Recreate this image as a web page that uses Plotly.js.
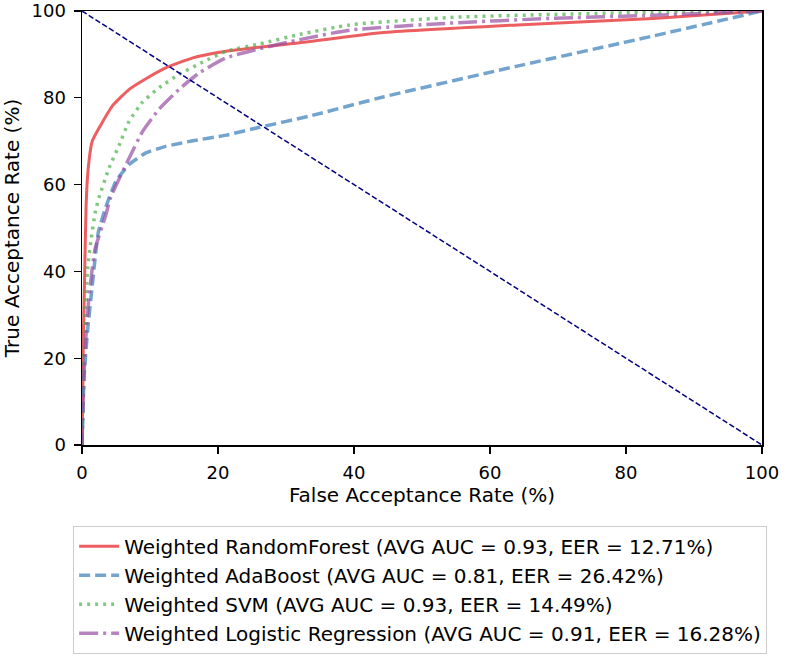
<!DOCTYPE html>
<html>
<head>
<meta charset="utf-8">
<script src="https://cdn.plot.ly/plotly-3.0.1.min.js"></script>
<style>html,body{margin:0;padding:0;background:#fff;}#chart{width:800px;height:665px;}</style>
</head>
<body>
<div id="chart"></div>
<script>
// Data (FAR %, TAR %)
const rfName = "Weighted RandomForest (AVG AUC = 0.93, EER = 12.71%)";
const rfX = [0, 0.1, 0.2, 0.4, 0.6, 0.9, 1.5, 2.75, 4.5, 6.9, 9.4, 12.3, 16.3, 20.2, 25, 31, 44, 64, 84, 100];
const rfY = [0, 10, 25, 40, 55, 63.5, 70, 73.7, 78.2, 81.9, 84.4, 86.9, 89.2, 90.5, 91.5, 92.5, 95.0, 96.8, 98.3, 100];

const adaName = "Weighted AdaBoost (AVG AUC = 0.81, EER = 26.42%)";
const adaX = [0, 0.1, 0.3, 0.8, 1.5, 2.4, 3.5, 5, 6.9, 9.4, 12.3, 16.3, 21.2, 26.1, 33.5, 44.3, 64, 83.6, 100];
const adaY = [0, 5, 15.4, 26, 36.6, 49, 54.8, 60.8, 64.6, 67.3, 68.8, 70.1, 71.4, 73.2, 75.8, 80.2, 87.3, 94.1, 100];

const svmName = "Weighted SVM (AVG AUC = 0.93, EER = 14.49%)";
const svmX = [0, 0.2, 0.5, 0.8, 1.3, 2.0, 2.5, 4.0, 5.5, 6.9, 8.9, 11.4, 14.3, 17.7, 21.2, 26.1, 32, 39.4, 54, 69, 84, 100];
const svmY = [0, 15, 30, 40, 47, 54, 57, 63.9, 69.2, 74.5, 79, 82.4, 85.4, 88.2, 90.7, 92.4, 94.6, 96.8, 98.5, 99.2, 99.7, 100];

const lrName = "Weighted Logistic Regression (AVG AUC = 0.91, EER = 16.28%)";
const lrX = [0, 0.15, 0.45, 1.0, 1.9, 3.5, 4.2, 6.9, 8.9, 11.4, 14.3, 17.3, 21.2, 26.1, 32, 39.4, 54, 69, 84, 100];
const lrY = [0, 9.4, 22, 33.6, 45, 53, 57, 66, 72.2, 77.5, 82, 85.8, 89.2, 91.3, 93.4, 95.6, 97.2, 98.3, 99, 100];

const diagX = [0, 100];
const diagY = [100, 0];

const traces = [
  {x: rfX, y: rfY, name: rfName, mode: 'lines', line: {color: 'rgba(228,26,28,0.7)', width: 3, dash: 'solid', shape: 'spline', smoothing: 0.5}},
  {x: adaX, y: adaY, name: adaName, mode: 'lines', line: {color: 'rgba(55,126,184,0.7)', width: 3.5, dash: '11px,5px', shape: 'spline', smoothing: 0.5}},
  {x: svmX, y: svmY, name: svmName, mode: 'lines', line: {color: 'rgba(77,175,74,0.7)', width: 3.5, dash: '3px,5px', shape: 'spline', smoothing: 0.5}},
  {x: lrX, y: lrY, name: lrName, mode: 'lines', line: {color: 'rgba(152,78,163,0.7)', width: 3.5, dash: '19px,5px,3px,5px', shape: 'spline', smoothing: 0.5}},
  {x: diagX, y: diagY, name: 'chance', mode: 'lines', showlegend: false, line: {color: '#000080', width: 1.5, dash: '5.5px,2.5px'}}
];

const axisCommon = {
  range: [0, 100],
  tickvals: [0, 20, 40, 60, 80, 100],
  ticks: 'outside', ticklen: 7, tickwidth: 1.2, tickcolor: '#000',
  ticklabelstandoff: 4,
  ticklabeloverflow: 'allow',
  showline: true, mirror: true, linecolor: '#000', linewidth: 1.5,
  showgrid: false, zeroline: false,
  tickfont: {family: 'DejaVu Sans', size: 18, color: '#000'}
};

const layout = {
  width: 800, height: 665,
  margin: {l: 82, r: 38, t: 11, b: 217},
  paper_bgcolor: '#fff', plot_bgcolor: '#fff',
  font: {family: 'DejaVu Sans', color: '#000'},
  xaxis: Object.assign({}, axisCommon, {title: {text: 'False Acceptance Rate (%)', font: {family: 'DejaVu Sans', size: 20}, standoff: 6}}),
  yaxis: Object.assign({}, axisCommon, {title: {text: 'True Acceptance Rate (%)', font: {family: 'DejaVu Sans', size: 20}, standoff: 19}}),
  showlegend: true,
  legend: {
    x: -0.013, y: -0.186, xanchor: 'left', yanchor: 'top',
    bordercolor: '#cccccc', borderwidth: 1, bgcolor: '#fff',
    font: {family: 'DejaVu Sans', size: 20, color: '#000'},
    itemwidth: 40
  }
};

Plotly.newPlot('chart', traces, layout, {displayModeBar: false, staticPlot: true});
</script>
</body>
</html>
